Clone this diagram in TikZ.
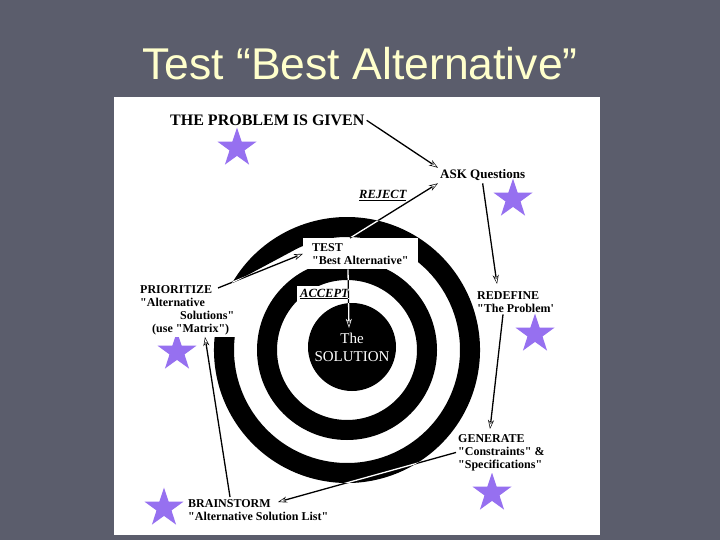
\documentclass[tikz,border=0pt]{standalone}
\usepackage{fontspec}
\newfontfamily\lblfont{Liberation Serif}
\newfontfamily\titlefont{Liberation Sans}
\usetikzlibrary{arrows.meta, shapes.geometric}

\definecolor{slidebg}{RGB}{91,93,108}
\definecolor{titleyellow}{RGB}{255,255,204}
\definecolor{starpurple}{RGB}{150,112,240}

\tikzset{
  lbl/.style={font=\lblfont\bfseries\fontsize{12}{13}\selectfont, align=left, inner sep=2pt},
  cutbox/.style={lbl, fill=white},
  starmark/.style={star, star points=5, star point ratio=2.6, fill=starpurple,
                   minimum size=41pt, inner sep=0pt},
}

\begin{document}
\begin{tikzpicture}[x=1pt, y=1pt]
\fill[slidebg] (0,0) rectangle (720,-540);
\fill[white] (114,-97) rectangle (600,-535);
\node[font=\titlefont\fontsize{44.5}{50}\selectfont, text=titleyellow, anchor=base]
    (title) at (360,-80) {Test “Best Alternative”};

\coordinate (ctr) at (347,-350);
\fill ([shift={(ctr)}]-190:133) arc[start angle=-190, end angle=150, radius=133]
    -- ([shift={(ctr)}]120:113) arc[start angle=120, end angle=-190, radius=113] -- cycle;
\draw[line width=20pt] (ctr) circle[radius=80];
\node[circle, fill=black, minimum size=88pt, inner sep=0pt, text=white, align=center,
      font=\lblfont\fontsize{15}{18}\selectfont] (sol) at (352,-347) {The\\SOLUTION};

\begin{scope}[every node/.style={starmark}]
    \node (s1) at (237,-148) {};
    \node (s2) at (513,-199) {};
    \node (s3) at (535,-334) {};
    \node (s4) at (177,-352) {};
    \node (s5) at (492,-493) {};
    \node (s6) at (164,-508) {};
\end{scope}

\node[lbl, font=\lblfont\bfseries\fontsize{16}{18}\selectfont, anchor=base west]
    (given) at (168,-125.5) {THE PROBLEM IS GIVEN};
\node[lbl, font=\lblfont\bfseries\fontsize{13}{15}\selectfont, anchor=base west]
    (ask) at (438,-179) {ASK Questions};
\node[lbl, font=\lblfont\bfseries\itshape\fontsize{12.5}{14}\selectfont, anchor=base west]
    (reject) at (357,-199) {\underline{REJECT}};
\node[cutbox, anchor=north west, inner xsep=9pt, inner ysep=5pt]
    (test) at (303,-238) {TEST\\"Best Alternative"};
\node[cutbox, font=\lblfont\bfseries\itshape\fontsize{12.5}{14}\selectfont, anchor=base west, inner sep=3pt]
    (accept) at (297,-297) {\underline{ACCEPT}};
\node[cutbox, anchor=north west]
    (prio) at (138,-283) {PRIORITIZE\\"Alternative\\\hspace*{40pt}Solutions"\\\hspace*{12pt}(use "Matrix")};
\node[cutbox, anchor=north west]
    (redef) at (475,-289) {REDEFINE\\"The Problem'};
\node[cutbox, anchor=north west]
    (gen) at (456,-432) {GENERATE\\"Constraints" \&\\"Specifications"};
\node[cutbox, anchor=north west]
    (brain) at (186,-497) {BRAINSTORM\\"Alternative Solution List"};

\begin{scope}[blend mode=difference,
              >={Stealth[white,length=9pt,width=6pt]},
              every edge/.style={draw=white, line width=1.3pt}]
    \path [->] (given.east) edge (ask.north west);
    \path [->] (ask.south) edge ([xshift=22pt,yshift=5pt]redef.north west);
    \path [->] ([xshift=28pt]redef.south west) edge ([xshift=34pt,yshift=3pt]gen.north west);
    \path [->] (gen.west) edge ([xshift=92pt,yshift=-5pt]brain.north west);
    \path [->] ([xshift=44pt]brain.north west) edge ([xshift=67pt]prio.south west);
    \path [->] ([xshift=80pt,yshift=-5pt]prio.north west) edge (test.west);
    \path [->] ([xshift=47pt]test.north west) edge (ask.south west);
    \path [->] ([xshift=45pt]test.south west) edge ([xshift=-3pt,yshift=-25pt]sol.north);
\end{scope}
\end{tikzpicture}
\end{document}
